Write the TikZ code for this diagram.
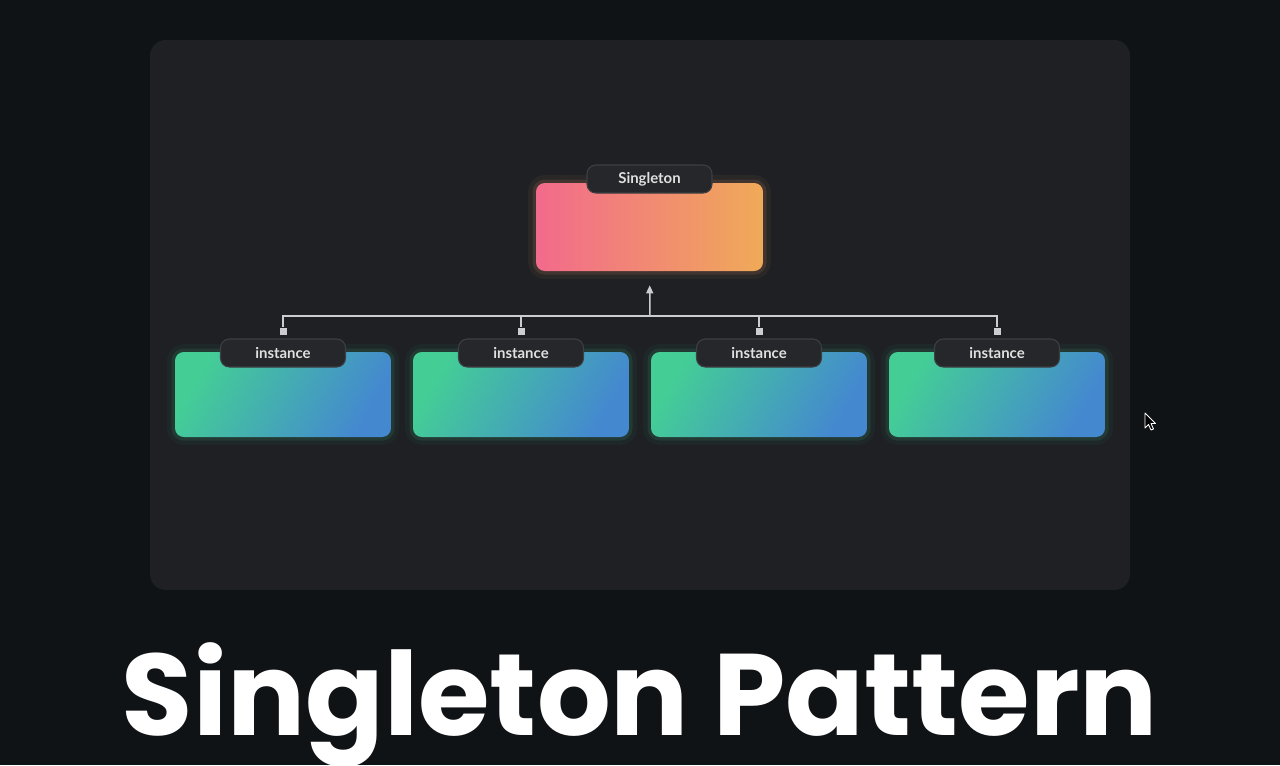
\documentclass[tikz,border=0pt]{standalone}
\usepackage{fontspec}
\setmainfont{Poppins}
\newfontfamily\lblfont{Lato}
\usepackage{xcolor}
\usetikzlibrary{positioning,arrows.meta}

\definecolor{bgc}{RGB}{16,19,22}
\definecolor{panelc}{RGB}{30,32,35}
\definecolor{pillc}{RGB}{38,39,42}
\definecolor{pilledge}{RGB}{62,63,66}
\definecolor{pinkc}{RGB}{242,106,140}
\definecolor{orangec}{RGB}{240,170,88}
\definecolor{greenc}{RGB}{68,206,150}
\definecolor{bluec}{RGB}{68,136,208}
\definecolor{wirec}{RGB}{205,205,208}

\begin{document}
\begin{tikzpicture}[x=0.02cm, y=-0.02cm,
    box/.style={rounded corners=5pt, minimum height=1.7cm, minimum width=4.32cm, inner sep=0},
    sglbox/.style={box, minimum width=4.54cm, minimum height=1.76cm, left color=pinkc, right color=orangec,
                   preaction={draw=orangec!70!pinkc, line width=9pt, opacity=0.06},
                   preaction={draw=orangec!70!pinkc, line width=4pt, opacity=0.12}},
    instbox/.style={box, left color=greenc, right color=bluec, shading angle=60,
                    preaction={draw=greenc, line width=9pt, opacity=0.05},
                    preaction={draw=greenc, line width=4pt, opacity=0.11}},
    pill/.style={draw=pilledge, line width=0.6pt, fill=pillc, rounded corners=5pt,
                 minimum width=2.5cm, minimum height=0.56cm, inner sep=0,
                 text=white!88!black, font=\lblfont\bfseries\fontsize{8.5}{10}\selectfont},
    sq/.style={fill=wirec, minimum size=0.14cm, inner sep=0},
    wire/.style={draw=wirec, line width=0.85pt},
    arr/.style={wire, -{Triangle[length=0.16cm, width=0.14cm]}}
  ]
  % background and panel
  \useasboundingbox[fill=bgc] (0,0) rectangle (1280,765);
  \fill[panelc, rounded corners=9pt] (150,40) rectangle (1130,590);

  % singleton
  \node[sglbox] (sgl) at (649.5,227) {};
  \node[pill] (sgllbl) at (649.5,179) {Singleton};

  % instances
  \foreach \i/\x in {1/283, 2/521, 3/759, 4/997} {
    \node[instbox] (inst\i) at (\x,394.5) {};
    \node[pill] (lbl\i) at (\x,353) {instance};
    \node[sq] (sq\i) at (\x,331) {};
  }

  \coordinate (jn) at (650,316);
  \foreach \i in {1,...,4}
    \draw[wire] (sq\i.north) |- (jn);
  \draw[arr, shorten >=0.28cm] (jn) -- (sgl.south);

  % mouse pointer
  \filldraw[fill=black, draw=white, line width=0.5pt, line join=round]
    (1145,413) -- (1145,428) -- (1148.5,424.5) -- (1151,430) -- (1153.5,429)
    -- (1151,423.5) -- (1155.5,423.5) -- cycle;

  % title
  \node[text=white, anchor=base, inner sep=0, font=\fontsize{66}{76}\selectfont\bfseries] (title) at (640,735) {Singleton Pattern};
\end{tikzpicture}
\end{document}
